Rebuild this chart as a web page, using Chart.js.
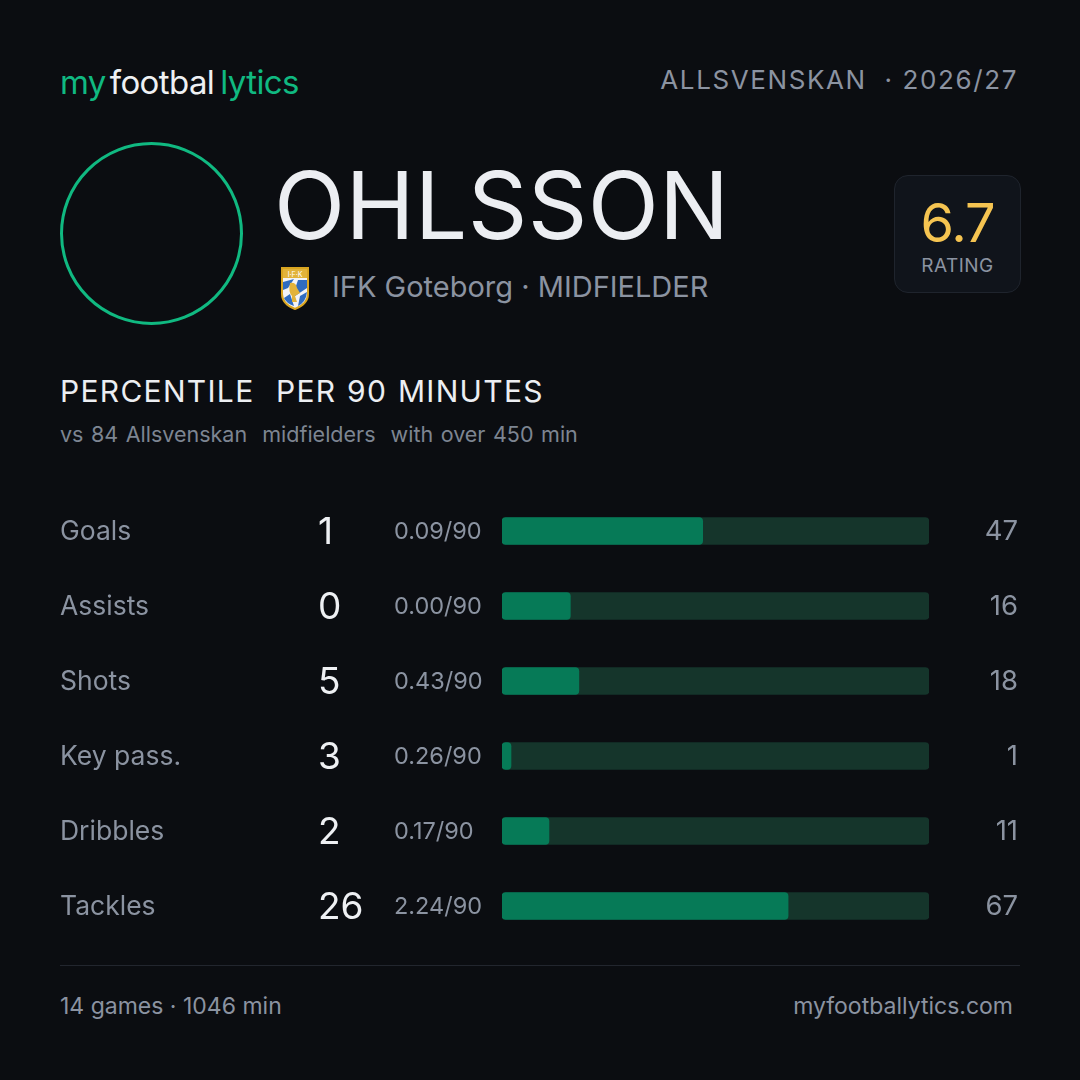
<!DOCTYPE html>
<html>
<head>
<meta charset="utf-8">
<script src="https://cdn.jsdelivr.net/npm/chart.js@4.4.1/dist/chart.umd.min.js"></script>
<style>
  html, body { margin: 0; padding: 0; background: #0b0d11; }
  body { width: 1080px; height: 1080px; position: relative; overflow: hidden; font-family: Inter, "Noto Sans", sans-serif; }
  .abs { position: absolute; white-space: nowrap; }
  .logo { left: 60px; top: 62px; font-size: 33px; letter-spacing: -0.6px; }
  .logo .g { color: #10b981; }
  .logo .w { color: #eef0f3; margin-left: 4px; margin-right: 6px; }
  .league { right: 62px; top: 64px; font-size: 26px; color: #8b93a1; letter-spacing: 1.6px; }
  .avatar { left: 60px; top: 142px; width: 177px; height: 177px; border: 3px solid #10b981; border-radius: 50%; }
  .name { left: 274px; top: 149px; font-size: 93px; font-weight: 400; color: #eceef2; letter-spacing: 0.3px; }
  .crest { left: 280px; top: 266px; }
  .team { left: 332px; top: 269px; font-size: 29px; color: #8b93a1; }
  .rating { left: 894px; top: 175px; width: 125px; height: 116px; border: 1px solid #1f242d; border-radius: 14px; background: #10141b; }
  .rating .v { position: absolute; left: 0; right: 0; top: 14px; text-align: center; font-size: 54px; color: #f5c451; letter-spacing: -1px; }
  .rating .l { position: absolute; left: 0; right: 0; top: 78px; text-align: center; font-size: 19px; color: #8b93a1; letter-spacing: 0.5px; }
  .title { left: 60px; top: 373px; font-size: 30px; color: #eceef2; letter-spacing: 1.3px; word-spacing: 1px; }
  .sub { left: 60px; top: 421px; font-size: 21.5px; color: #7d8592; word-spacing: 1.5px; }
  .rule { left: 60px; top: 965px; width: 960px; height: 1px; background: #22262e; }
  .foot { top: 992px; font-size: 23px; color: #8b93a1; }
  #rows { position: absolute; left: 0; top: 480px; }
</style>
</head>
<body>
<div class="abs logo"><span class="g">my</span><span class="w">footbal</span><span class="g">lytics</span></div>
<div class="abs league">ALLSVENSKAN &nbsp;· 2026/27</div>
<div class="abs avatar"></div>
<div class="abs name">OHLSSON</div>
<svg class="abs crest" width="30" height="44" viewBox="0 0 30 44">
  <path d="M2 2 H28 V28 Q28 38 15 43 Q2 38 2 28 Z" fill="#f3f4f6" stroke="#d9a520" stroke-width="2"/>
  <rect x="3" y="3" width="24" height="9" fill="#e2b33a"/>
  <text x="15" y="10.5" font-size="7" text-anchor="middle" fill="#ffffff" font-family="Inter">I·F·K</text>
  <path d="M3 16 L14 13 L8 22 L3 24 Z" fill="#2f6cc0"/>
  <path d="M18 14 L27 14 L27 22 L12 32 Z" fill="#2f6cc0"/>
  <path d="M4 32 L10 28 L14 40 Q6 37 4 32 Z" fill="#2f6cc0"/>
  <path d="M20 30 L27 26 Q26 36 18 40 Z" fill="#2f6cc0"/>
  <path d="M10 17 Q16 16 17 22 L20 27 L15 30 L17 36 L12 36 L12 30 Q8 26 10 17 Z" fill="#e2b33a"/>
</svg>
<div class="abs team">IFK Goteborg · MIDFIELDER</div>
<div class="abs rating"><div class="v">6.7</div><div class="l">RATING</div></div>
<div class="abs title">PERCENTILE &nbsp;PER 90 MINUTES</div>
<div class="abs sub">vs 84 Allsvenskan &nbsp;midfielders &nbsp;with over 450 min</div>
<canvas id="rows" width="1080" height="480"></canvas>
<div class="abs rule"></div>
<div class="abs foot" style="left:60px;">14 games · 1046 min</div>
<div class="abs foot" style="right:67px;">myfootballytics.com</div>

<script>
// stats shown in the card
const stats = ['Goals', 'Assists', 'Shots', 'Key pass.', 'Dribbles', 'Tackles'];
const totals = [1, 0, 5, 3, 2, 26];
const per90 = ['0.09', '0.00', '0.43', '0.26', '0.17', '2.24'];
const percentiles = [47, 16, 18, 1, 11, 67];
const trackMax = [100, 100, 100, 100, 100, 100];

// row texts drawn next to each bar
const rowText = {
  id: 'rowText',
  afterDatasetsDraw(chart) {
    const ctx = chart.ctx;
    const y = chart.scales.y;
    ctx.save();
    ctx.textBaseline = 'middle';
    stats.forEach((s, i) => {
      const py = y.getPixelForValue(i);
      ctx.textAlign = 'left';
      ctx.fillStyle = '#8b93a1';
      ctx.font = '26.5px Inter';
      ctx.fillText(s, 60, py + 1);
      ctx.fillStyle = '#eef0f3';
      ctx.font = '37px Inter';
      ctx.fillText(String(totals[i]), 318, py + 2);
      ctx.fillStyle = '#8b93a1';
      ctx.font = '23.5px Inter';
      ctx.fillText(per90[i] + '/90', 394, py + 1);
      ctx.textAlign = 'right';
      ctx.font = '27.5px Inter';
      ctx.fillText(String(percentiles[i]), 1018, py + 1);
    });
    ctx.restore();
  }
};

const ctx = document.getElementById('rows').getContext('2d');
new Chart(ctx, {
  type: 'bar',
  data: {
    labels: stats,
    datasets: [
      {
        data: percentiles,
        backgroundColor: '#067a57',
        borderRadius: 4,
        borderSkipped: false,
        barThickness: 27,
        minBarLength: 9,
        grouped: false,
        order: 0
      },
      {
        data: trackMax,
        backgroundColor: '#15352b',
        borderRadius: 4,
        borderSkipped: false,
        barThickness: 27,
        grouped: false,
        order: 1
      }
    ]
  },
  options: {
    indexAxis: 'y',
    responsive: false,
    animation: false,
    layout: { padding: { left: 502, right: 151, top: 13.5, bottom: 16.5 } },
    plugins: { legend: { display: false }, tooltip: { enabled: false } },
    scales: {
      x: { min: 0, max: 100, display: false },
      y: { display: false }
    }
  },
  plugins: [rowText]
});
</script>
</body>
</html>
